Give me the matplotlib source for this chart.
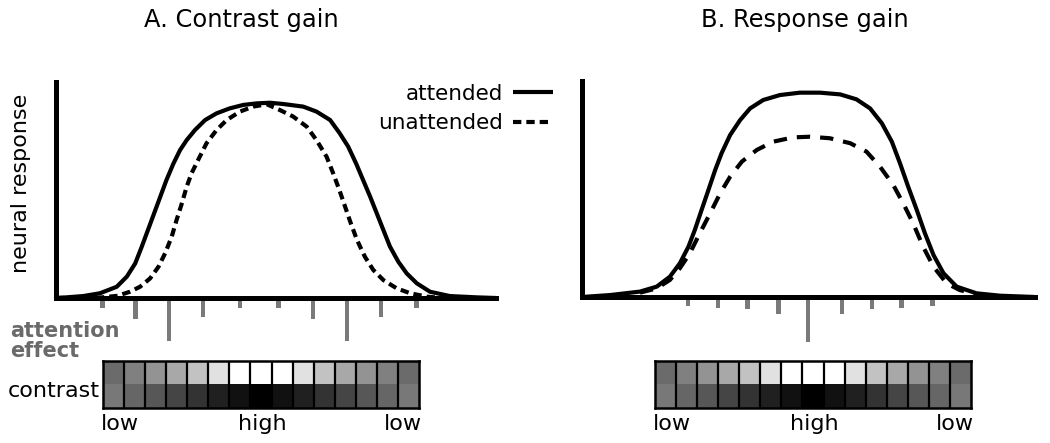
import matplotlib
matplotlib.use('Agg')
import matplotlib.pyplot as plt
import numpy as np

W, H = 1050, 443

# ---- data (x: position along the contrast axis, 0-100; y: response, fraction of axis height)
a_att_x = [0, 2.4, 6.2, 10.0, 13.8, 16.1, 18.0, 19.5, 20.9, 22.3, 23.7, 25.1, 26.7, 28.2, 29.7,
           31.6, 33.9, 36.5, 39.5, 42.6, 45.6, 48.6, 51.7, 56.2, 59.2, 62.3, 64.5, 66.4, 68.2,
           69.8, 71.4, 72.9, 74.4, 75.9, 77.8, 79.7, 82.0, 85.0, 89.5, 95.6, 100]
a_att_y = [0, 0.003, 0.009, 0.022, 0.052, 0.099, 0.160, 0.238, 0.315, 0.392, 0.469, 0.546, 0.623,
           0.685, 0.731, 0.778, 0.824, 0.855, 0.878, 0.894, 0.901, 0.904, 0.898, 0.886, 0.863,
           0.824, 0.762, 0.701, 0.623, 0.546, 0.469, 0.392, 0.315, 0.238, 0.168, 0.114, 0.068,
           0.029, 0.009, 0.003, 0]
a_un_x = [0, 10.0, 14.0, 16.8, 19.1, 21.4, 23.3, 24.8, 26.3, 27.4, 28.6, 29.7, 30.8, 32.3, 34.2,
          36.5, 38.8, 41.8, 44.8, 47.9, 50.9, 53.9, 57.0, 59.2, 61.5, 63.0, 64.4, 65.7, 67.0,
          68.4, 70.2, 72.1, 74.4, 77.4, 80.5, 84.3, 88.0]
a_un_y = [0, 0.002, 0.010, 0.029, 0.052, 0.091, 0.145, 0.207, 0.284, 0.361, 0.438, 0.515, 0.577,
          0.639, 0.716, 0.778, 0.824, 0.863, 0.886, 0.897, 0.870, 0.840, 0.793, 0.731, 0.654,
          0.577, 0.500, 0.423, 0.346, 0.269, 0.191, 0.130, 0.083, 0.045, 0.022, 0.006, 0]

b_att_x = [0, 6.2, 12.8, 16.5, 19.4, 21.6, 23.5, 24.9, 26.4, 27.9, 29.4, 30.8, 32.7, 34.9, 37.1,
           40.0, 43.7, 48.1, 52.5, 57.0, 60.6, 63.6, 66.2, 68.4, 70.2, 72.0, 73.9, 75.7, 77.6,
           79.8, 82.7, 87.1, 92.3, 100]
b_att_y = [0, 0.009, 0.025, 0.048, 0.094, 0.156, 0.233, 0.310, 0.403, 0.495, 0.588, 0.665, 0.750,
           0.819, 0.873, 0.912, 0.935, 0.946, 0.946, 0.938, 0.915, 0.873, 0.804, 0.719, 0.619,
           0.511, 0.403, 0.295, 0.194, 0.110, 0.048, 0.017, 0.006, 0]
b_un_x = [12.8, 16.5, 19.4, 21.6, 23.8, 26.0, 28.3, 30.5, 32.7, 35.3, 38.6, 42.2, 46.6, 50.3,
          54.7, 59.2, 62.8, 65.8, 68.7, 70.9, 73.1, 75.3, 77.6, 80.5, 83.4, 88.0]
b_un_y = [0.020, 0.040, 0.079, 0.133, 0.202, 0.295, 0.388, 0.480, 0.557, 0.627, 0.681, 0.719,
          0.739, 0.742, 0.735, 0.712, 0.673, 0.603, 0.519, 0.434, 0.341, 0.233, 0.140, 0.063,
          0.032, 0.009]

# attention effect bars
a_eff_x = [10.5, 18.0, 25.7, 33.4, 41.8, 50.5, 58.4, 66.1, 73.9, 82.0]
a_eff_h = [0.046, 0.097, 0.199, 0.088, 0.046, 0.046, 0.097, 0.199, 0.088, 0.046]
b_eff_x = [23.4, 30.0, 36.6, 43.3, 49.9, 57.4, 64.0, 70.6, 77.3]
b_eff_h = [0.042, 0.051, 0.056, 0.079, 0.208, 0.079, 0.056, 0.051, 0.042]

# contrast patches (grey levels, 0 = black, 1 = white)
patch_top = [0.42, 0.50, 0.58, 0.66, 0.76, 0.88, 1.0, 1.0, 1.0, 0.88, 0.76, 0.66, 0.58, 0.50, 0.42]
patch_bot = [0.47, 0.40, 0.34, 0.27, 0.20, 0.13, 0.07, 0.0, 0.07, 0.13, 0.20, 0.27, 0.34, 0.40, 0.47]

titles = ["A. Contrast gain", "B. Response gain"]
legend_labels = ["attended", "unattended"]
contrast_labels = ["low", "high", "low"]

plt.rcParams['font.family'] = ['DejaVu Sans']

fig = plt.figure(figsize=(W / 100, H / 100), dpi=100)


def fx(px):
    return px / W


def fy(py):
    return 1 - py / H


LW = 3.0
DASH_A = (2.0, 1.2)
DASH_B = (3.2, 2.4)


def make_axes(x0, x1, ytop, ybase):
    ax = fig.add_axes([fx(x0), fy(ybase), (x1 - x0) / W, (ybase - ytop) / H])
    ax.set_xlim(0, 100)
    ax.set_ylim(0, 1)
    for s in ['top', 'right']:
        ax.spines[s].set_visible(False)
    for s in ['left', 'bottom']:
        ax.spines[s].set_linewidth(3.6)
        ax.spines[s].set_capstyle('projecting')
    ax.set_xticks([])
    ax.set_yticks([])
    ax.patch.set_alpha(0)
    return ax


axA = make_axes(56, 496, 82, 298)
axB = make_axes(582, 1035, 81, 297)

la, = axA.plot(a_att_x, a_att_y, color='black', lw=LW, solid_capstyle='butt',
               solid_joinstyle='round')
lu, = axA.plot(a_un_x, a_un_y, color='black', lw=LW, linestyle=(0, DASH_A),
               dash_capstyle='butt')
axB.plot(b_att_x, b_att_y, color='black', lw=LW, solid_capstyle='butt', solid_joinstyle='round')
axB.plot(b_un_x, b_un_y, color='black', lw=LW, linestyle=(0, DASH_B), dash_capstyle='butt')

axA.bar(a_eff_x, [-h for h in a_eff_h], width=1.05, bottom=0, color='#7a7a7a',
        clip_on=False, zorder=1)
axB.bar(b_eff_x, [-h for h in b_eff_h], width=1.05, bottom=0, color='#7a7a7a',
        clip_on=False, zorder=1)

leg = axA.legend([la, lu], legend_labels, loc='upper right',
                 bbox_to_anchor=(fx(553), fy(84)), bbox_transform=fig.transFigure,
                 markerfirst=False, frameon=False, fontsize=15.5, handlelength=1.85,
                 handletextpad=0.45, labelspacing=0.42, borderpad=0, borderaxespad=0)


def make_grid(x0, x1):
    g = fig.add_axes([fx(x0), fy(408), (x1 - x0) / W, 47 / H])
    g.imshow(np.array([patch_top, patch_bot]), cmap='gray', vmin=0, vmax=1,
             aspect='auto', interpolation='nearest')
    for k in range(len(patch_top) - 1):
        g.axvline(k + 0.5, color='black', lw=1.6)
    for s in g.spines.values():
        s.set_linewidth(1.8)
    g.set_xticks([])
    g.set_yticks([])
    fig.text(fx(x0 - 2), fy(430), contrast_labels[0], ha='left', va='baseline', fontsize=16)
    fig.text(fx((x0 + x1) / 2 + 1), fy(430), contrast_labels[1], ha='center', va='baseline',
             fontsize=16)
    fig.text(fx(x1 + 3), fy(430), contrast_labels[2], ha='right', va='baseline', fontsize=16)
    return g


make_grid(103, 419)
make_grid(655, 971)

fig.text(fx(241), fy(20), titles[0], ha='center', va='center', fontsize=17.4)
fig.text(fx(805), fy(20), titles[1], ha='center', va='center', fontsize=17.4)
fig.text(fx(21), fy(183), "neural response", rotation=90, ha='center', va='center', fontsize=16)
fig.text(fx(10), fy(337), "attention", ha='left', va='baseline', fontsize=15,
         fontweight='bold', color='#6a6a6a')
fig.text(fx(10), fy(357), "effect", ha='left', va='baseline', fontsize=15,
         fontweight='bold', color='#6a6a6a')
fig.text(fx(8), fy(397), "contrast", ha='left', va='baseline', fontsize=16)

fig.savefig('out.png', dpi=100)
